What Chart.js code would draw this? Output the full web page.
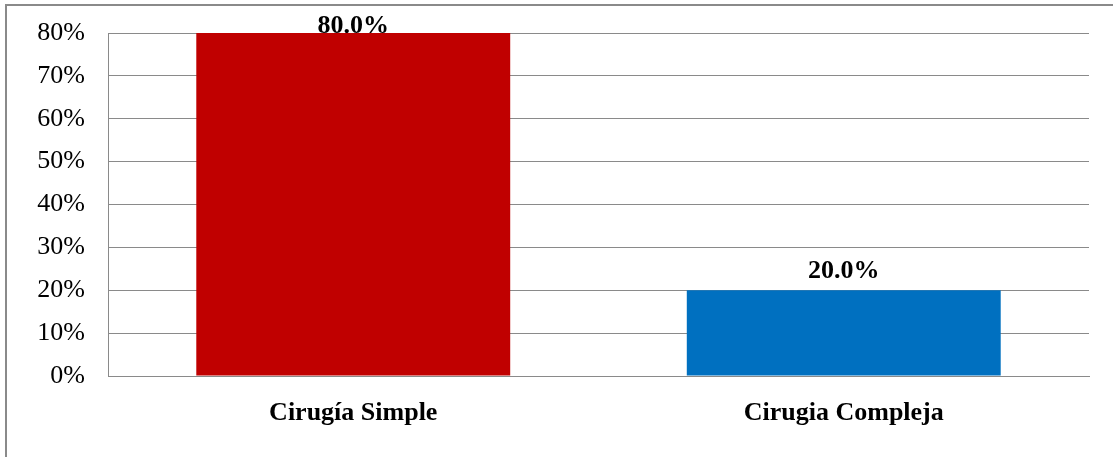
<!DOCTYPE html>
<html>
<head>
<meta charset="utf-8">
<script src="https://cdn.jsdelivr.net/npm/chart.js@4/dist/chart.umd.min.js"></script>
<style>
  html, body { margin: 0; padding: 0; background: #ffffff; }
  #wrap { position: relative; width: 1113px; height: 457px; overflow: hidden; }
  #frame { position: absolute; left: 5px; top: 4px; width: 1130px; height: 480px;
           border: 2px solid #8a8a8a; box-sizing: border-box; }
  canvas { position: absolute; left: 0; top: 0; }
</style>
</head>
<body>
<div id="wrap">
  <div id="frame"></div>
  <canvas id="chart" width="1113" height="457"></canvas>
</div>
<script>
// Surgery type distribution
const categories = ['Cirugía Simple', 'Cirugia Compleja'];
const percentages = [80.0, 20.0];
const barColors = ['#C00000', '#0070C0'];
const yTicks = [0, 10, 20, 30, 40, 50, 60, 70, 80];

const serif = '"Liberation Serif", "Times New Roman", serif';

// Writes the percentage above each bar, kept inside the plot's top edge
const valueLabels = {
  id: 'valueLabels',
  afterDatasetsDraw(chart) {
    const ctx = chart.ctx;
    const meta = chart.getDatasetMeta(0);
    const top = chart.chartArea.top;
    ctx.save();
    ctx.font = 'bold 26px ' + serif;
    ctx.fillStyle = '#000000';
    ctx.textAlign = 'center';
    ctx.textBaseline = 'alphabetic';
    meta.data.forEach((bar, i) => {
      const y = Math.max(bar.y - 12, top);
      ctx.fillText(percentages[i].toFixed(1) + '%', bar.x, y);
    });
    ctx.restore();
  }
};

new Chart(document.getElementById('chart'), {
  type: 'bar',
  data: {
    labels: categories,
    datasets: [{
      data: percentages,
      backgroundColor: barColors,
      borderWidth: 0,
      barPercentage: 0.64,
      categoryPercentage: 1.0
    }]
  },
  options: {
    responsive: false,
    animation: false,
    layout: { padding: { left: 0, right: 24, top: 33, bottom: 0 } },
    plugins: {
      legend: { display: false },
      tooltip: { enabled: false }
    },
    scales: {
      x: {
        grid: { display: false, drawTicks: false },
        border: { display: true, color: '#8a8a8a', width: 1 },
        ticks: {
          padding: 22,
          color: '#000000',
          font: { family: serif, size: 26, weight: 'bold' }
        },
        afterFit(scale) {
          scale.height = 81;
          scale.paddingLeft = 0;
          scale.paddingRight = 0;
        }
      },
      y: {
        min: 0,
        max: 80,
        afterBuildTicks(scale) { scale.ticks = yTicks.map(v => ({ value: v })); },
        grid: { color: '#8a8a8a', lineWidth: 1, drawTicks: false },
        border: { display: true, color: '#8a8a8a', width: 1 },
        ticks: {
          padding: 23,
          color: '#000000',
          font: { family: serif, size: 26 },
          callback: v => v + '%'
        },
        afterFit(scale) {
          scale.width = 108;
          scale.paddingTop = 0;
          scale.paddingBottom = 0;
        }
      }
    }
  },
  plugins: [valueLabels]
});
</script>
</body>
</html>
